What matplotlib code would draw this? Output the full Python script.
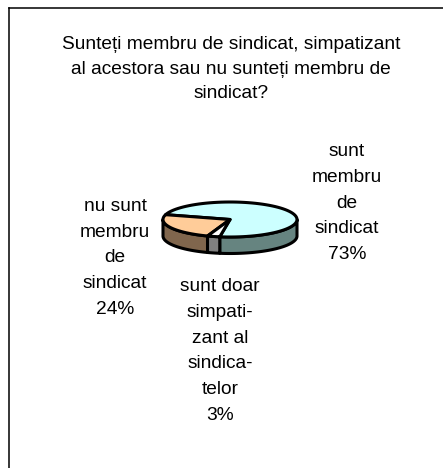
#
# 3D looking pie chart, union membership survey
#
import numpy as np
import matplotlib
matplotlib.use('Agg')
import matplotlib.pyplot as plt
from matplotlib.patches import Polygon

plt.rcParams['font.family'] = ['Liberation Sans', 'DejaVu Sans']

TITLE = "Sunteți membru de sindicat, simpatizant\nal acestora sau nu sunteți membru de\nsindicat?"
LABELS = ["sunt\nmembru\nde\nsindicat", "nu sunt\nmembru\nde\nsindicat", "sunt doar\nsimpati-\nzant al\nsindica-\ntelor"]
VALUES = [73, 24, 3]
TOP_COLORS = ["#ccffff", "#ffcc99", "#ffffff"]
SIDE_COLORS = ["#668480", "#80664d", "#808080"]

# where the labels sit, in pixels
LABEL_POS = [(347, 203), (115, 258), (220, 351)]

CX, CY = 230, 219.5
RX, RY = 67, 17.5
DEPTH = 16.5
LW = 2.2
FONT = 13.8


def arc(a0, a1, dy=0):
    t = np.radians(np.linspace(a0, a1, 80))
    return np.column_stack((CX + RX * np.cos(t), CY - RY * np.sin(t) + dy))


def draw_slice(ax, a0, a1, top, side):
    # the wall is only visible on the front half (180-360 deg)
    s0, s1 = max(a0, 180), min(a1, 360)
    if s1 > s0:
        pts = np.vstack((arc(s0, s1), arc(s0, s1, DEPTH)[::-1]))
        ax.add_patch(Polygon(pts, closed=True, fc=side, ec="black", lw=LW, joinstyle="round", zorder=2))
    pts = np.vstack(([[CX, CY]], arc(a0, a1)))
    ax.add_patch(Polygon(pts, closed=True, fc=top, ec="black", lw=LW, joinstyle="round", zorder=3))


def main():
    fig = plt.figure(figsize=(4.43, 4.68), dpi=100)
    ax = fig.add_axes([0, 0, 1, 1])
    ax.set_xlim(0, 443)
    ax.set_ylim(468, 0)
    ax.axis("off")

    # chart frame runs off the right and bottom of the picture
    ax.plot([9, 9], [468, 7.5], color="black", lw=1.1)
    ax.plot([9, 443], [7.5, 7.5], color="black", lw=1.1)

    ax.text(231, 69, TITLE, ha="center", va="center", fontsize=FONT, linespacing=1.6, color="black")

    # blue, orange, then the small slice, going round from 164 deg
    starts = {1: 164.0}
    starts[2] = starts[1] + VALUES[1] * 3.6
    starts[0] = starts[2] + VALUES[2] * 3.6
    for i in [0, 1, 2]:
        a0 = starts[i]
        draw_slice(ax, a0, a0 + VALUES[i] * 3.6, TOP_COLORS[i], SIDE_COLORS[i])

    for lab, val, pos in zip(LABELS, VALUES, LABEL_POS):
        ax.text(pos[0], pos[1], "{}\n{}%".format(lab, val), ha="center", va="center",
                fontsize=FONT, linespacing=1.68, color="black")

    fig.savefig("out.png", dpi=100)
    plt.close()


if __name__ == "__main__":
    main()
